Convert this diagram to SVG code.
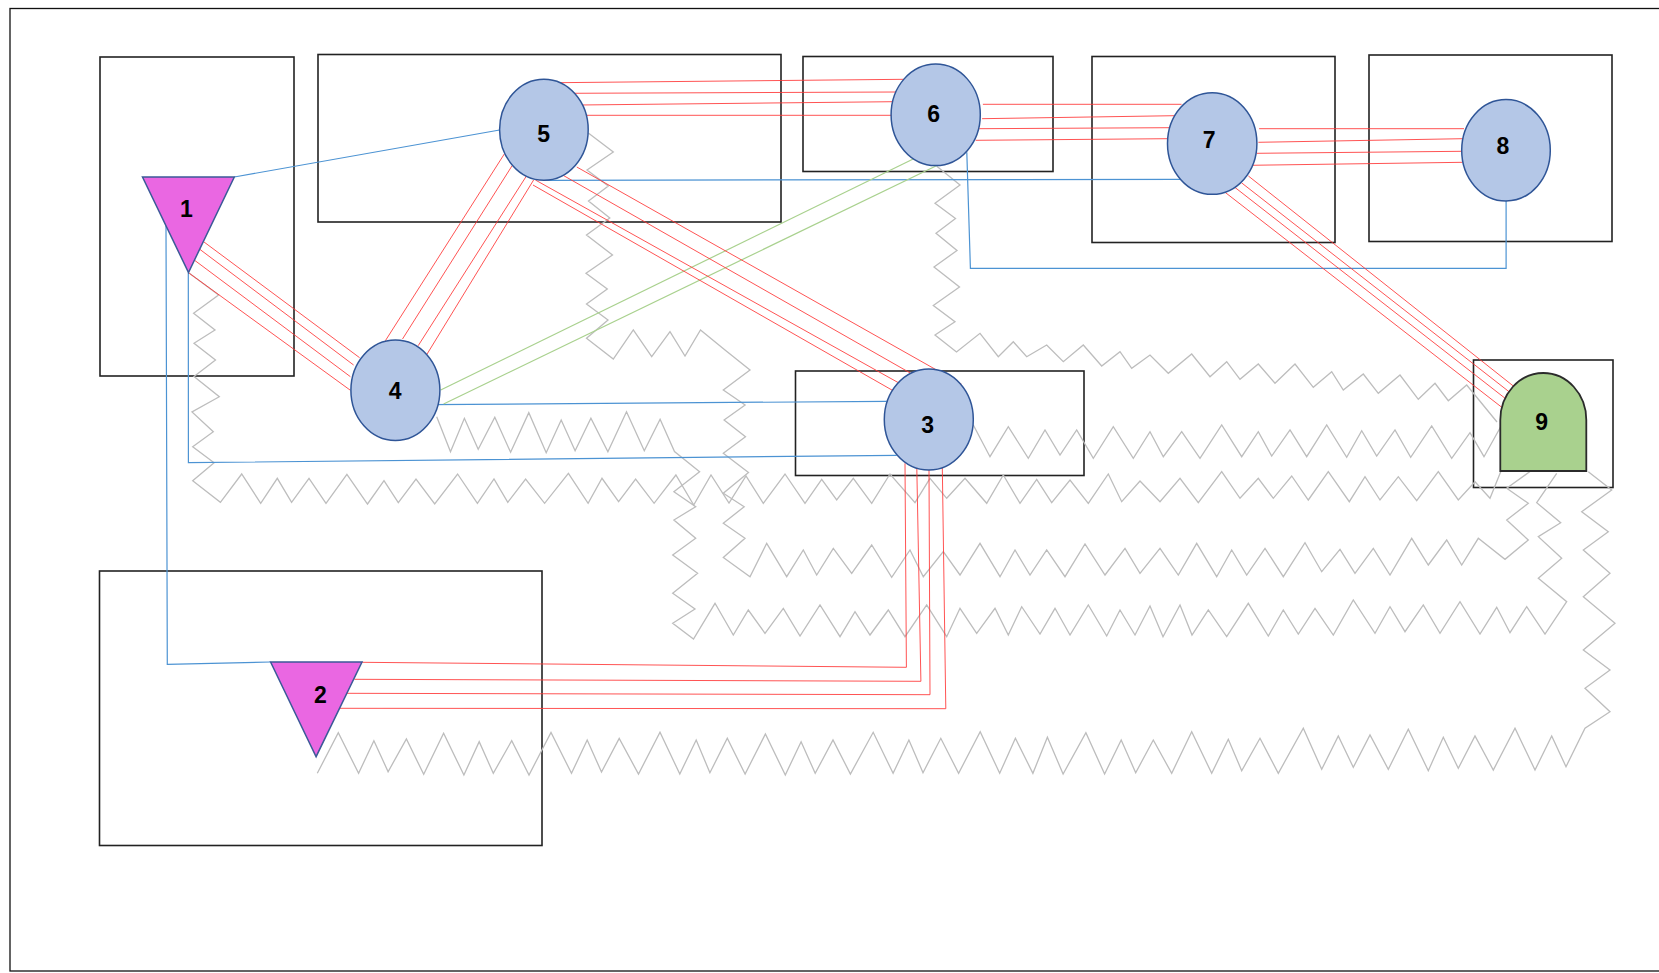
<svg xmlns="http://www.w3.org/2000/svg" width="1659" height="973" viewBox="0 0 1659 973">
<style>
.frame{fill:none;stroke:#111;stroke-width:1.3}
.box{fill:none;stroke:#222;stroke-width:1.6}
.zz{fill:none;stroke:#BDBDBD;stroke-width:1.3;stroke-linejoin:miter}
.red{fill:none;stroke:#FF3535;stroke-opacity:0.85;stroke-width:1}
.blue{fill:none;stroke:#4C93D3;stroke-width:1.2}
.green{fill:none;stroke:#A9D18E;stroke-width:1.2}
.ell{fill:#B4C7E7;stroke:#2F5597;stroke-width:1.5}
.tri{fill:#EA67E2;stroke:#3B5A98;stroke-width:1.5}
.dome{fill:#A9D18E;stroke:#2B2B2B;stroke-width:1.8}
.lbl{font-family:"Liberation Sans",Arial,sans-serif;font-weight:bold;font-size:23px;fill:#000;text-anchor:middle}
</style>
<rect x="0" y="0" width="1659" height="973" fill="#fff"/>
<rect class="frame" x="10" y="8.5" width="1700" height="962.5"/>
<g id="containers">
<rect id="box-1" class="box" x="100" y="57" width="194" height="319"/>
<rect id="box-5" class="box" x="318" y="54.5" width="463" height="167.5"/>
<rect id="box-6" class="box" x="803" y="56.5" width="250" height="115"/>
<rect id="box-7" class="box" x="1092" y="56.5" width="243" height="186"/>
<rect id="box-8" class="box" x="1369" y="55" width="243" height="186.5"/>
<rect id="box-9" class="box" x="1473.5" y="360" width="139.5" height="127.5"/>
<rect id="box-3" class="box" x="795.5" y="371" width="288.5" height="104.5"/>
<rect id="box-2" class="box" x="99.5" y="571" width="442.5" height="274.5"/>
</g>
<g id="connectors">
<g id="zigzags">
<polyline class="zz" points="189,273 218.6,295 193.6,313.3 215,330 194,343.3 215.5,360 194,376.5 219.3,396.7 192,412 213.3,431.7 192.7,446.7 214.1,462.7 192.7,480.7 220.4,502.3 241.7,474 260.7,503.3 277.3,478.3 291.6,502.3 309,478.3 326,503.3 346.9,474.3 367.5,504 384,480.7 398.3,502.7 416,479 434.7,504 457.6,474 477.4,503.3 494,479 507.8,502.3 525.6,479 544.6,503.3 568.4,473.3 588.1,503.3 602,478.3 618.6,501.7 635.6,479 654.1,503.3 675.9,475 693.7,505 711,475 729,503 746,476 763.3,503.3 785,474 805,503.3 821.7,479.3 836.7,500 853.3,478.3 871.7,503.3 890,474 915,502.7 930,478.3 946.7,498.3 965,478.3 986.7,503.3 1003.3,475 1020,503.3 1036.7,479.3 1051.7,502.7 1070,480 1088.3,503.3 1108.3,474 1121.7,501.7 1140,481 1160,501.7 1180,478.3 1198.3,502.7 1221.7,471.7 1240,498.3 1258.3,478.3 1273.3,498.3 1291.7,476 1308.3,500 1328.3,471.7 1349.3,501.7 1365,476.7 1380,500 1398.3,476.7 1416.7,500.7 1438.3,471.7 1458.3,500 1475,481.7 1490,498.3 1501,471"/>
<polyline class="zz" points="588.3,133 613.3,152 587,170 608.3,186 588.5,201 609.8,218 586.5,235 612.5,255 586,273.3 607.3,289 586.5,304 608,320 586.5,338.3 613.3,359 633.3,330 651.7,356.7 670,331.7 685,356 700.5,330 725,350 750,370 723.3,390 745.1,405 724.1,420 745.5,436.7 723.3,453.3 748.5,472.5 723.3,493.3 744.2,506.7 723.3,523.3 745,538.3 723.3,557.5 750,576.7 766.7,543.3 786.7,576.7 803.3,550 816.7,575 833.3,548.3 851.7,573.3 871.7,545 891.7,577.3 910,550 923.3,576.7 943.3,551.7 960,575 980,543.3 1000,576.7 1015,550 1030,575 1046.7,550 1065,576.7 1085,544 1105,575 1125,548.3 1140,573.3 1160,548.3 1178.3,575 1196.7,543.3 1216.7,576.7 1231.7,550 1246.7,575 1265,548.3 1283.3,576.7 1305,542.7 1321.7,571.7 1340,549.3 1355,573.3 1373.3,548.3 1390,575 1411.7,538.3 1428.3,565 1446.7,540 1461.7,565 1478.3,538.3 1505,559.3 1528.3,540 1506.7,520 1528.3,503.3 1506.7,488.3 1530,471.5"/>
<polyline class="zz" points="936.5,166 960,185 935,203.3 955.5,218.5 936,233.3 957,250.5 934,267 959.5,287 933.3,305.5 955,321.7 935,335 956.5,352 980,333.3 998.3,356.7 1013.3,341.7 1026.7,356.7 1046.7,345 1063.3,361.7 1083.3,345 1101.7,366 1120,351.7 1131.7,368.3 1150,355 1168.3,373.3 1191.7,354 1210,376.7 1226.7,361.7 1240,379.3 1258.3,364 1275,383.3 1295,364 1313.3,387.3 1331.7,371.7 1343.3,390 1363.3,374 1378.3,393.3 1400,375 1418.3,399.3 1435,383.3 1448.3,400.7 1466.7,385 1497,422"/>
<polyline class="zz" points="436.7,416.7 450.5,451.7 464.4,418.3 478.2,449.3 494.8,417.3 510.6,452.3 528.8,412.7 546.2,452.7 561.2,420 575.1,450.7 590.9,418.3 607.9,451.7 626.5,411.7 644.3,450.7 660.1,419.3 674.5,451.5 699.6,471.7 673.9,491.7 695.7,506.7 673.9,520 695.7,538.3 672.7,555 697.6,573.3 672.7,593.3 695,609 672.7,623.3 693.5,639 715,603.3 733.3,635 748.3,610 765,633.3 783.3,608.3 800,636 820,605 840,636.7 855,611.7 870,635 888.3,610 905,636.7 926.7,605 946.7,636.7 960,608.3 976.7,633.3 995,608.3 1008.3,635 1021.7,606.7 1040,634 1055,608.3 1070,635 1088.3,605 1106.7,636 1120,610 1135,635 1150,606 1163,636.7 1180,605 1192,635 1208.3,610 1226.7,636.7 1248.3,603.3 1268.3,636 1283.3,610 1298.3,634 1315,608.3 1333.3,635 1353.3,600 1375,633.3 1390,606.7 1405,631.7 1423.3,605 1440,633.3 1460,601.7 1480,634 1496.7,607.3 1510,632.7 1526.7,606.7 1545,634 1566.7,601.7 1538.3,578.3 1561.7,558.3 1538.3,536.7 1560.7,522.7 1536.7,502.7 1556.7,473.3"/>
<polyline class="zz" points="973.3,425 990,456.7 1008.3,426.7 1028.3,458.3 1045,430 1060,455 1076.7,430 1093.3,458.3 1113.3,426.7 1133.3,458.3 1150,431.7 1163.3,456.7 1181.7,431.7 1200,458.3 1221.7,425 1241.7,456.7 1258.3,431.7 1271.7,456 1290,430 1306.7,456.7 1326.7,425 1346.7,457.3 1361.7,430.7 1376.7,456 1395,430 1410.7,457.3 1431.7,426 1451.7,458.3 1470,432.7 1484,456.7 1501.7,425"/>
<polyline class="zz" points="317.3,773.3 338.3,732.7 358.6,773.3 373.9,740.7 388.1,771.7 406.4,739 423.7,774.3 443.6,733.3 463.9,775 479.2,741.7 493.3,773.3 511.7,740.7 529,775 551,732.5 571.5,773.3 587.2,740 601.5,772 619.2,738.5 638.5,774 660,732.3 679.8,774 696.2,740 709.9,772.7 727.3,738.3 745.1,774 765.4,734 785.3,775 801.1,741.7 815.2,773.3 833,740 850.4,774 873.2,732.3 893.1,773.3 908.9,740 923,772.7 940.8,738.3 958.6,773.3 980.2,731.7 999.7,773.3 1015.4,738.3 1032.9,773.3 1047.4,737.3 1063.1,774 1085.9,732.7 1104.6,774 1121.2,740 1135.7,772.7 1153.3,740 1171.7,773.3 1191.7,731.7 1211.7,773.3 1228.3,739.3 1241.7,770.7 1260,738.3 1278.3,773.3 1303.3,728.3 1321.7,769.3 1338.3,736 1353.3,767.3 1370,735 1388.3,769.3 1408.3,729.3 1428.3,770.7 1443.3,737.3 1458.3,768.3 1475,736 1493.3,770 1515,728.3 1535,770 1551.7,736 1566,766.7 1585,728.3 1610,711.7 1585,688.3 1610,670 1583.3,650 1615,623.3 1583.3,596.7 1610,573.3 1583.3,550 1608.3,531.7 1581.7,511.7 1611.7,490 1588.3,471.7"/>
</g>
<g id="blue-links">
<line class="blue" x1="234.3" y1="177" x2="499.6" y2="130"/>
<polyline class="blue" points="166,226 167.3,664.3 270.6,662"/>
<polyline class="blue" points="188.3,272.5 188.4,462.7 896.7,455.3"/>
<line class="blue" x1="430.7" y1="404.7" x2="886.7" y2="401.3"/>
<line class="blue" x1="544.3" y1="180.3" x2="1180" y2="179.3"/>
<polyline class="blue" points="966.8,152.3 970.4,268.3 1506.1,268.3 1506.1,201"/>
</g>
<g id="green-links">
<line class="green" x1="440.7" y1="390" x2="913.2" y2="159"/>
<line class="green" x1="443.6" y1="404" x2="936.4" y2="165.7"/>
</g>
<g id="red-links">
<line class="red" x1="556.8" y1="82.7" x2="904.3" y2="79.3"/>
<line class="red" x1="570" y1="93.3" x2="896.4" y2="92"/>
<line class="red" x1="578.9" y1="105" x2="893.6" y2="101.7"/>
<line class="red" x1="583.6" y1="115.3" x2="891.8" y2="115.3"/>
<line class="red" x1="982.9" y1="104.3" x2="1181.5" y2="104.3"/>
<line class="red" x1="982.1" y1="118.7" x2="1174.2" y2="115.7"/>
<line class="red" x1="979.3" y1="128.7" x2="1169.7" y2="127.7"/>
<line class="red" x1="975.7" y1="140.3" x2="1167.9" y2="138.7"/>
<line class="red" x1="1259.1" y1="128.7" x2="1464" y2="128.7"/>
<line class="red" x1="1258.4" y1="142.3" x2="1462.6" y2="138.7"/>
<line class="red" x1="1256.9" y1="153.3" x2="1461.5" y2="151.3"/>
<line class="red" x1="1250.6" y1="165.3" x2="1462.6" y2="162.3"/>
<line class="red" x1="1248.4" y1="176" x2="1513.3" y2="386"/>
<line class="red" x1="1241.4" y1="182.7" x2="1509" y2="391.7"/>
<line class="red" x1="1234.4" y1="187" x2="1506" y2="399"/>
<line class="red" x1="1222.5" y1="190.3" x2="1502.3" y2="407.7"/>
<line class="red" x1="200.4" y1="239.3" x2="359.6" y2="357.7"/>
<line class="red" x1="195" y1="245.7" x2="353.6" y2="365"/>
<line class="red" x1="192.9" y1="259" x2="350.4" y2="376.7"/>
<line class="red" x1="189.3" y1="273.3" x2="350" y2="390"/>
<line class="red" x1="504.3" y1="154" x2="385.4" y2="340.7"/>
<line class="red" x1="512.1" y1="165.7" x2="402.5" y2="339"/>
<line class="red" x1="527.5" y1="174.3" x2="418.2" y2="345.7"/>
<line class="red" x1="533.6" y1="180" x2="427.1" y2="354"/>
<line class="red" x1="576.8" y1="167" x2="961.4" y2="384"/>
<line class="red" x1="554.3" y1="170.3" x2="915" y2="375.7"/>
<line class="red" x1="535.4" y1="180" x2="902.5" y2="385"/>
<line class="red" x1="533" y1="185" x2="894.5" y2="391.5"/>
<polyline class="red" points="905,463.3 906.4,667.3 362,662.3"/>
<polyline class="red" points="916.7,462.3 920.9,681.3 354.4,679.3"/>
<polyline class="red" points="929,470 930,694.7 346,693.3"/>
<polyline class="red" points="942.3,466.7 945.8,708.7 339.1,708.3"/>
</g>
</g>
<g id="node-1"><polygon class="tri" points="142.5,177 234.3,177 188.5,272.5"/><text class="lbl" x="186.5" y="216.5">1</text></g>
<g id="node-2"><polygon class="tri" points="270.6,662 362,662 316.1,756.7"/><text class="lbl" x="320.3" y="702.5">2</text></g>
<g id="node-3"><ellipse class="ell" cx="928.8" cy="419.5" rx="44.5" ry="50.5"/><text class="lbl" x="927.7" y="433">3</text></g>
<g id="node-4"><ellipse class="ell" cx="395.4" cy="390.3" rx="44.5" ry="50.3"/><text class="lbl" x="395.2" y="399">4</text></g>
<g id="node-5"><ellipse class="ell" cx="543.9" cy="129.8" rx="44.3" ry="50.5"/><text class="lbl" x="543.6" y="141.5">5</text></g>
<g id="node-6"><ellipse class="ell" cx="935.7" cy="114.8" rx="44.6" ry="50.8"/><text class="lbl" x="933.6" y="122">6</text></g>
<g id="node-7"><ellipse class="ell" cx="1212.2" cy="143.5" rx="44.7" ry="50.8"/><text class="lbl" x="1209.2" y="147.5">7</text></g>
<g id="node-8"><ellipse class="ell" cx="1506" cy="150.3" rx="44.3" ry="50.7"/><text class="lbl" x="1502.8" y="154">8</text></g>
<g id="node-9"><path class="dome" d="M1500.3,471 L1500.3,420 A43,47 0 0 1 1586.3,420 L1586.3,471 Z"/><text class="lbl" x="1541.7" y="429.7">9</text></g>
</svg>
